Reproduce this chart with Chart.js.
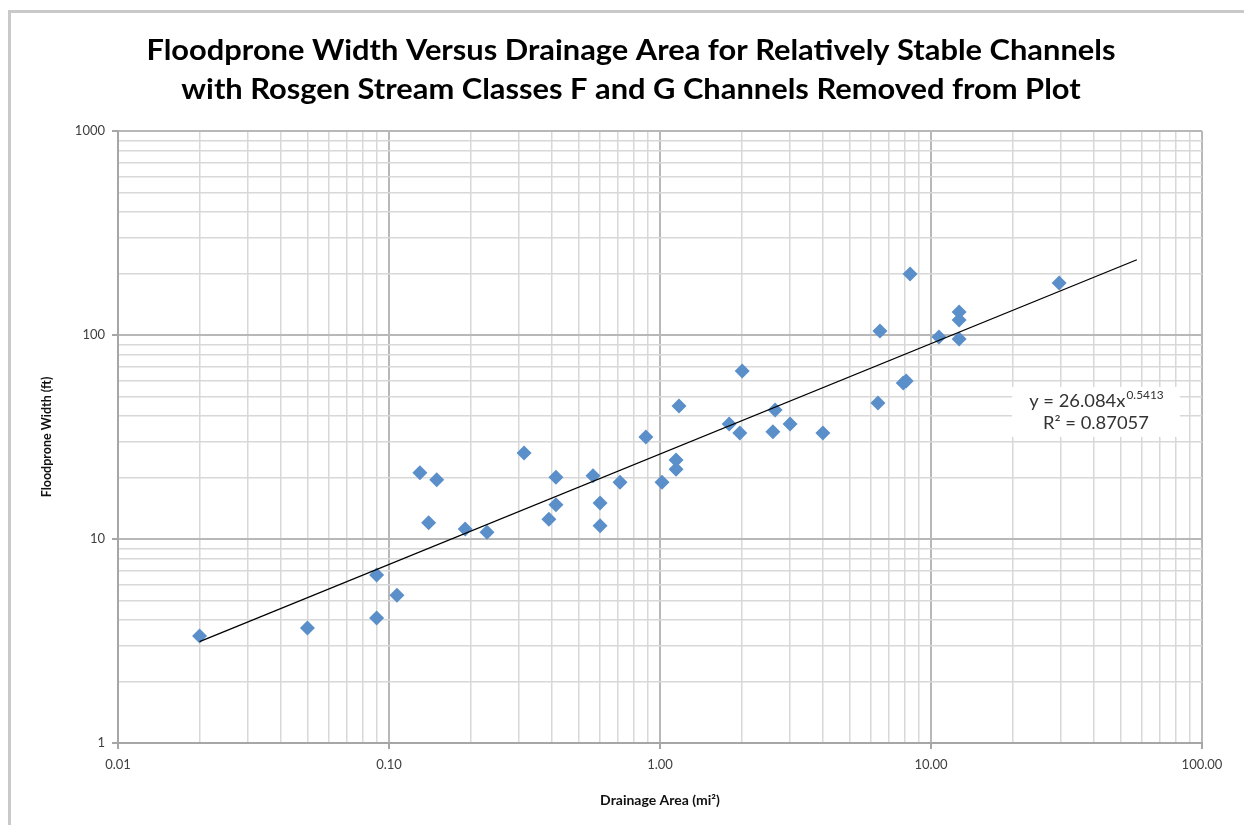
<!DOCTYPE html>
<html>
<head>
<meta charset="utf-8">
<script src="https://cdn.jsdelivr.net/npm/chart.js@4.4.1/dist/chart.umd.min.js"></script>
<style>
html,body{margin:0;padding:0;background:#fff;}
#wrap{width:1244px;height:825px;position:relative;}
</style>
</head>
<body>
<div id="wrap"><canvas id="c" width="1244" height="825"></canvas></div>
<script>
// ---- data ----
const drainageArea = [0.020,0.050,0.090,0.090,0.107,0.130,0.140,0.150,0.191,0.230,0.315,0.389,0.413,0.413,0.566,0.601,0.601,0.712,0.887,1.017,1.146,1.146,1.175,1.80,2.01,1.97,2.61,2.66,3.02,3.99,6.37,6.48,7.9,8.1,8.37,10.7,12.7,12.7,12.7,29.7];
const floodproneWidth = [3.35,3.66,6.66,4.1,5.3,21.1,12.0,19.5,11.2,10.8,26.4,12.5,20.1,14.7,20.4,15.0,11.6,19.0,31.6,19.0,24.4,22.0,44.9,36.6,66.6,33.1,33.6,42.9,36.6,33.1,46.4,104.6,58.2,59.5,199,97.8,129.7,118.5,95.6,179.8];
const trendX = [0.02, 57.5];
const trendY = [3.14, 233.8];
const xMajorTicks = [0.01, 0.1, 1, 10, 100];
const xTickLabels = ['0.01', '0.10', '1.00', '10.00', '100.00'];
const yMajorTicks = [1, 10, 100, 1000];
const yTickLabels = ['1', '10', '100', '1000'];
const titleLines = ['Floodprone Width Versus Drainage Area for Relatively Stable Channels', 'with Rosgen Stream Classes F and G Channels Removed from Plot'];
const eqText = 'y = 26.084x';
const eqExp = '0.5413';
const r2Text = 'R\u00B2 = 0.87057';

// build tick lists (majors plus 2..9 minors)
function buildTicks(majors){
  const out=[];
  majors.forEach((m,i)=>{
    out.push({value:m, major:true});
    if(i<majors.length-1){ for(let k=2;k<=9;k++) out.push({value:m*k, major:false}); }
  });
  return out;
}
function labelFor(val, majors, labels){
  for(let i=0;i<majors.length;i++){ if(Math.abs(val/majors[i]-1)<1e-6) return labels[i]; }
  return '';
}
function isMajor(val, majors){ return majors.some(m=>Math.abs(val/m-1)<1e-6); }

const points = drainageArea.map((x,i)=>({x:x,y:floodproneWidth[i]}));
const trend = trendX.map((x,i)=>({x:x,y:trendY[i]}));

const FONT = 'Lato, "Open Sans", sans-serif';

function drawScaledText(ctx, text, cx, cy, sx){
  ctx.save();
  ctx.translate(cx, cy);
  ctx.scale(sx, 1);
  ctx.textAlign='center';
  ctx.fillText(text, 0, 0);
  ctx.restore();
}

const framePlugin = {
  id:'frame',
  beforeDraw(chart){
    const ctx=chart.ctx;
    ctx.save();
    ctx.fillStyle='#fff'; ctx.fillRect(0,0,chart.width,chart.height);
    ctx.fillStyle='#c9c9c9';
    ctx.fillRect(8,10,chart.width-8,3);
    ctx.fillRect(8,10,3,chart.height-10);
    // title
    ctx.fillStyle='#000';
    ctx.textBaseline='middle';
    ctx.font='bold 28px '+FONT;
    const w = ctx.measureText(titleLines[0]).width;
    const sx = 969 / w;
    drawScaledText(ctx, titleLines[0], 631, 51, sx);
    drawScaledText(ctx, titleLines[1], 631, 90, sx);
    ctx.restore();
  },
  afterDraw(chart){
    const ctx=chart.ctx;
    const xs=chart.scales.x, ys=chart.scales.y;
    ctx.save();
    const cx = xs.getPixelForValue(40.6), cy = ys.getPixelForValue(41.5);
    ctx.fillStyle='#fff';
    ctx.fillRect(cx-84, cy-26, 168, 50);
    ctx.fillStyle='#333';
    ctx.textBaseline='middle';
    ctx.translate(cx, cy);
    ctx.scale(1.08, 1);
    ctx.font='17px '+FONT;
    const w1=ctx.measureText(eqText).width;
    ctx.font='11px '+FONT;
    const w2=ctx.measureText(eqExp).width;
    const sx=-(w1+w2)/2;
    ctx.font='17px '+FONT; ctx.textAlign='left';
    ctx.fillText(eqText, sx, -11);
    ctx.font='11px '+FONT;
    ctx.fillText(eqExp, sx+w1+1, -17);
    ctx.font='17px '+FONT; ctx.textAlign='center';
    ctx.fillText(r2Text, 0, 11);
    ctx.restore();
  }
};

new Chart(document.getElementById('c'), {
  type:'scatter',
  data:{datasets:[
    {label:'trend', data:trend, type:'line', showLine:true, borderColor:'#000', borderWidth:1.3, pointRadius:0, fill:false, order:1},
    {label:'data', data:points, pointStyle:'rectRot', pointRadius:7.5, pointHoverRadius:7.5, backgroundColor:'#5a8fca', borderColor:'#5a8fca', borderWidth:0, order:2}
  ]},
  options:{
    responsive:false, animation:false,
    layout:{padding:{left:10, right:42, top:131, bottom:12}},
    plugins:{legend:{display:false}, tooltip:{enabled:false}, title:{display:false}},
    scales:{
      x:{
        type:'logarithmic', min:0.01, max:100,
        afterBuildTicks(s){ s.ticks = buildTicks(xMajorTicks); },
        afterFit(s){ s.height = 70; },
        ticks:{autoSkip:false, maxRotation:0, color:'#404040', padding:8, font:{family:FONT, size:13},
          callback(v){ return labelFor(v, xMajorTicks, xTickLabels); }},
        grid:{
          color(c){ return (c.tick && isMajor(c.tick.value, xMajorTicks)) ? '#b8b8b8' : '#d8d8d8'; },
          lineWidth(c){ return (c.tick && isMajor(c.tick.value, xMajorTicks)) ? 2 : 1.5; },
          tickColor(c){ return (c.tick && isMajor(c.tick.value, xMajorTicks)) ? '#a6a6a6' : 'rgba(0,0,0,0)'; },
          tickLength:6, drawTicks:true
        },
        border:{color:'#a6a6a6', width:2},
        title:{display:true, text:'Drainage Area (mi\u00B2)', color:'#111', font:{family:FONT, size:14, weight:'bold'}, padding:{top:8}}
      },
      y:{
        type:'logarithmic', min:1, max:1000,
        afterBuildTicks(s){ s.ticks = buildTicks(yMajorTicks); },
        afterFit(s){ s.width = 108; },
        ticks:{autoSkip:false, color:'#404040', padding:7, font:{family:FONT, size:13},
          callback(v){ return labelFor(v, yMajorTicks, yTickLabels); }},
        grid:{
          color(c){ return (c.tick && isMajor(c.tick.value, yMajorTicks)) ? '#b8b8b8' : '#d8d8d8'; },
          lineWidth(c){ return (c.tick && isMajor(c.tick.value, yMajorTicks)) ? 2 : 1.5; },
          tickColor(c){ return (c.tick && isMajor(c.tick.value, yMajorTicks)) ? '#a6a6a6' : 'rgba(0,0,0,0)'; },
          tickLength:6
        },
        border:{color:'#a6a6a6', width:2},
        title:{display:true, text:'Floodprone Width (ft)', color:'#111', font:{family:FONT, size:12.5, weight:'bold'}, padding:{top:29, bottom:0}}
      }
    }
  },
  plugins:[framePlugin]
});
</script>
</body>
</html>
